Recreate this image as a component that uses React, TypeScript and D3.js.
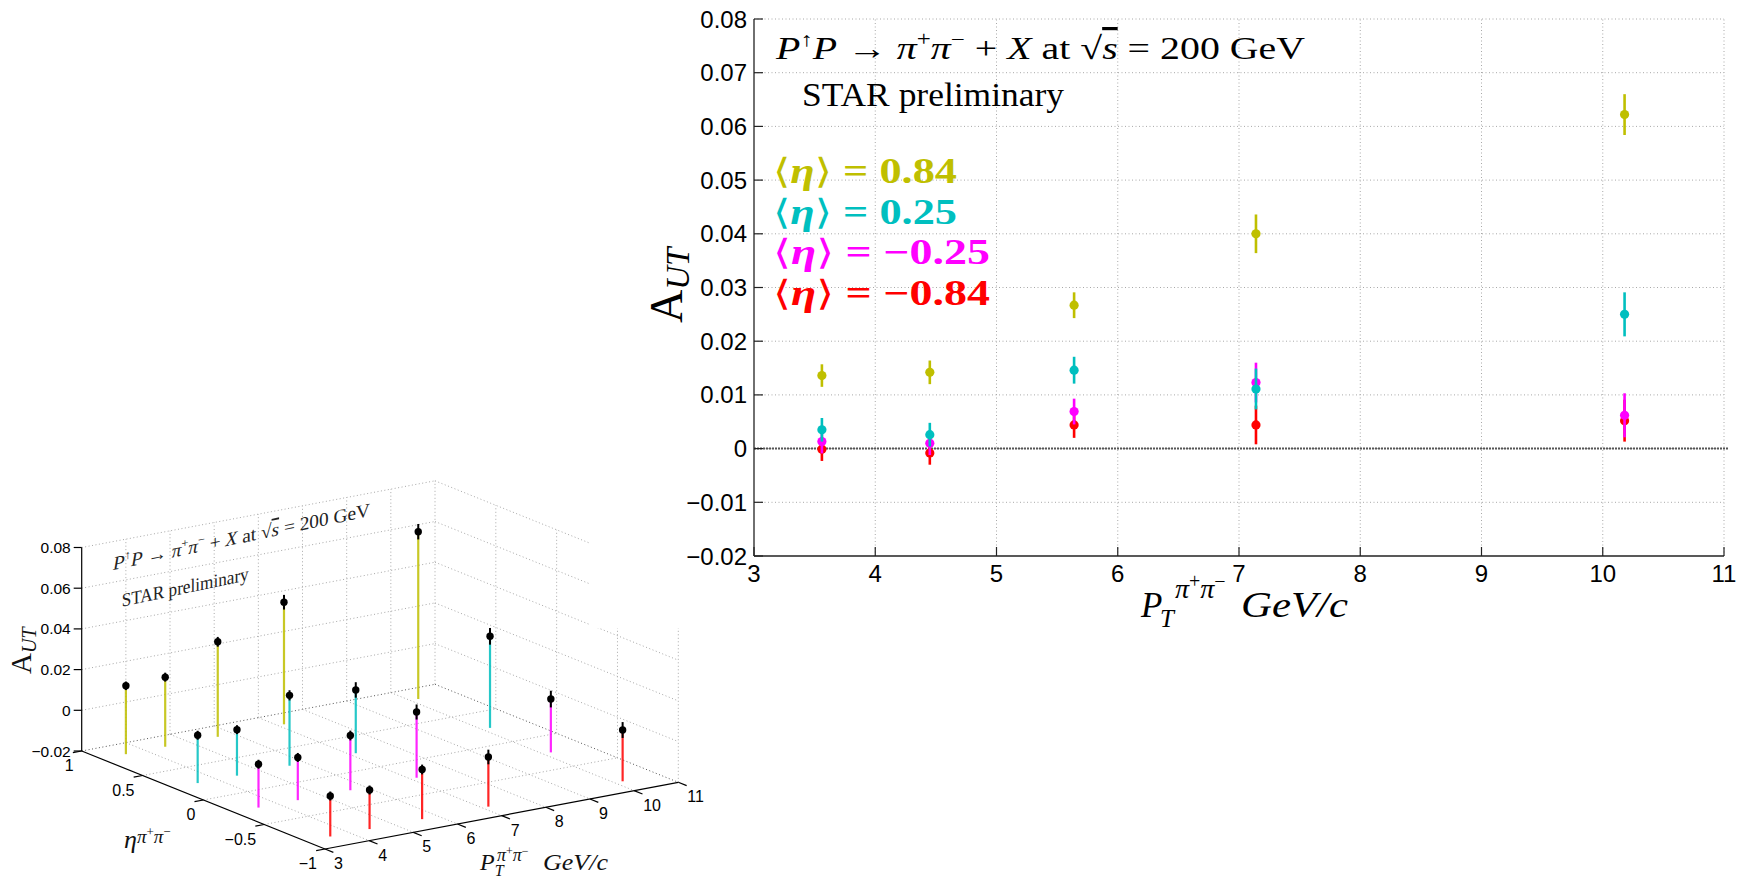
import React from 'react';
import * as d3 from 'd3';

// pT bins (GeV/c) and eta bins
const ptBins = [3.56, 4.45, 5.64, 7.14, 10.18];
const etaBins = [0.84, 0.25, -0.25, -0.84];
const etaText = ['0.84', '0.25', '\u22120.25', '\u22120.84'];

// A_UT per eta bin, with stat. errors
const autEta084 = [0.0136, 0.0142, 0.0267, 0.04, 0.0622];
const errEta084 = [0.0021, 0.0022, 0.0024, 0.0036, 0.0038];
const autEta025 = [0.0035, 0.0026, 0.0146, 0.0111, 0.025];
const errEta025 = [0.0022, 0.0022, 0.0025, 0.0038, 0.0041];
const autEtaM025 = [0.0013, 0.001, 0.0069, 0.0123, 0.0062];
const errEtaM025 = [0.0022, 0.0022, 0.0024, 0.0037, 0.0041];
const autEtaM084 = [-0.0001, -0.0008, 0.0044, 0.0044, 0.0052];
const errEtaM084 = [0.0022, 0.0022, 0.0024, 0.0036, 0.0039];

const seriesVals = [autEta084, autEta025, autEtaM025, autEtaM084];
const seriesErrs = [errEta084, errEta025, errEtaM025, errEtaM084];

// axis ticks
const xTicks = [3, 4, 5, 6, 7, 8, 9, 10, 11];
const yTicks = [-0.02, -0.01, 0, 0.01, 0.02, 0.03, 0.04, 0.05, 0.06, 0.07, 0.08];
const zTicks3d = [-0.02, 0, 0.02, 0.04, 0.06, 0.08];
const etaTicks3d = [1, 0.5, 0, -0.5, -1];
const ptTicks3d = [3, 4, 5, 6, 7, 8, 9, 10, 11];

const colors = ['#bfbf00', '#00bfbf', '#ff00ff', '#ff0000'];
const sans = '"Liberation Sans", Arial, Helvetica, sans-serif';
const serif = '"Liberation Serif", "DejaVu Serif", "Times New Roman", serif';
const grid = '#a8a8a8';

const fmt = (v) => {
    if (Math.abs(v) < 1e-9) return '0';
    const s = Math.abs(v).toFixed(2);
    return (v < 0 ? '\u2212' : '') + s;
};
const fmt1 = (v) => (v < 0 ? '\u2212' : '') + String(Math.abs(v));

export default function App() {
    // ---------- main 2D panel ----------
    const x = d3.scaleLinear().domain([3, 11]).range([754, 1724]);
    const y = d3.scaleLinear().domain([-0.02, 0.08]).range([556, 19]);
    const [x0, x1] = x.range();
    const [yb, yt] = y.range();

    // ---------- 3D panel (orthographic projection) ----------
    const ox = 81.7, oy = 751;
    const ptSx = d3.scaleLinear().domain([3, 11]).range([0, 353.3]);
    const ptSy = d3.scaleLinear().domain([3, 11]).range([0, -66.7]);
    const etaSx = d3.scaleLinear().domain([1, -1]).range([0, 243.3]);
    const etaSy = d3.scaleLinear().domain([1, -1]).range([0, 98]);
    const zS = d3.scaleLinear().domain([-0.02, 0.08]).range([0, -203.5]);
    const P = (p, e, z) => [ox + ptSx(p) + etaSx(e), oy + ptSy(p) + etaSy(e) + zS(z)];
    const seg = (a, b) => ({ x1: a[0], y1: a[1], x2: b[0], y2: b[1] });

    const gridLines3d = [];
    // floor
    etaTicks3d.slice(0, 4).forEach((e) => gridLines3d.push({ l: seg(P(3, e, -0.02), P(11, e, -0.02)), dark: e === 1 }));
    ptTicks3d.slice(1).forEach((p) => gridLines3d.push({ l: seg(P(p, 1, -0.02), P(p, -1, -0.02)), dark: p === 11 }));
    // back wall eta = 1
    zTicks3d.slice(1).forEach((z) => gridLines3d.push({ l: seg(P(3, 1, z), P(11, 1, z)) }));
    ptTicks3d.slice(1).forEach((p) => gridLines3d.push({ l: seg(P(p, 1, -0.02), P(p, 1, 0.08)) }));
    // right wall pT = 11
    zTicks3d.slice(1).forEach((z) => gridLines3d.push({ l: seg(P(11, 1, z), P(11, -1, z)) }));
    etaTicks3d.slice(1).forEach((e) => gridLines3d.push({ l: seg(P(11, e, -0.02), P(11, e, 0.08)) }));

    const stems = [];
    seriesVals.forEach((vals, si) => {
        vals.forEach((v, i) => {
            const p = ptBins[i], e = etaBins[si];
            stems.push({ p, e, v, err: seriesErrs[si][i], c: colors[si], depth: etaSy(e) + ptSy(p) });
        });
    });
    stems.sort((a, b) => a.depth - b.depth);

    const tk = 9;
    const ptDir = [44.16, -8.34], etaDir = [121.65, 49];
    const nrm = (v) => { const l = Math.hypot(v[0], v[1]); return [v[0] / l, v[1] / l]; };
    const ptN = nrm(ptDir), etaN = nrm(etaDir);

    return (
        <svg width={1746} height={882} style={{ position: 'absolute', left: 0, top: 0, background: '#fff' }}>
            <rect x={0} y={0} width={1746} height={882} fill="#fff" />

            {/* ===== 3D stem plot ===== */}
            <g>
                {gridLines3d.map((g, i) => (
                    <line key={'g3' + i} {...g.l} stroke={g.dark ? '#555' : grid}
                        strokeWidth={1} strokeDasharray="1,2.5" />
                ))}
                {/* axes */}
                <line {...seg(P(3, 1, -0.02), P(3, 1, 0.08))} stroke="#000" strokeWidth={1.2} />
                <line {...seg(P(3, 1, -0.02), P(3, -1, -0.02))} stroke="#000" strokeWidth={1.2} />
                <line {...seg(P(3, -1, -0.02), P(11, -1, -0.02))} stroke="#000" strokeWidth={1.2} />
                {zTicks3d.map((z) => {
                    const [px, py] = P(3, 1, z);
                    return (
                        <g key={'zt' + z}>
                            <line x1={px} y1={py} x2={px - 8} y2={py} stroke="#000" strokeWidth={1.2} />
                            <text x={px - 11} y={py} textAnchor="end" dominantBaseline="central"
                                fontFamily={sans} fontSize={15.5}>{fmt(z)}</text>
                        </g>
                    );
                })}
                {etaTicks3d.map((e) => {
                    const [px, py] = P(3, e, -0.02);
                    return (
                        <g key={'et' + e}>
                            <line x1={px} y1={py} x2={px - ptN[0] * tk} y2={py - ptN[1] * tk} stroke="#000" strokeWidth={1.2} />
                            <text x={px - 8} y={py + 20} textAnchor="end" fontFamily={sans} fontSize={16}>{fmt1(e)}</text>
                        </g>
                    );
                })}
                {ptTicks3d.map((p) => {
                    const [px, py] = P(p, -1, -0.02);
                    return (
                        <g key={'pt' + p}>
                            <line x1={px} y1={py} x2={px + etaN[0] * tk} y2={py + etaN[1] * tk} stroke="#000" strokeWidth={1.2} />
                            <text x={px + 9} y={py + 20} textAnchor="start" fontFamily={sans} fontSize={16}>{p}</text>
                        </g>
                    );
                })}

                {/* stems */}
                {stems.map((s, i) => {
                    const b = P(s.p, s.e, -0.02), t = P(s.p, s.e, s.v);
                    const lo = P(s.p, s.e, s.v - s.err), hi = P(s.p, s.e, s.v + s.err);
                    return (
                        <g key={'st' + i}>
                            <line {...seg(b, t)} stroke={s.c} strokeWidth={2.2} opacity={0.85} />
                            <line {...seg(lo, hi)} stroke="#000" strokeWidth={2} />
                            <circle cx={t[0]} cy={t[1]} r={3.7} fill="#000" />
                        </g>
                    );
                })}

                {/* texts on the back wall */}
                <text transform="matrix(1,-0.21,0,1,113,570)" fontFamily={serif} fontSize={19} fill="#222"
                    textLength={257} lengthAdjust="spacingAndGlyphs">
                    <tspan fontStyle="italic">P</tspan>
                    <tspan fontSize={12} dy={-8}>↑</tspan>
                    <tspan fontStyle="italic" dy={8}>P</tspan>
                    <tspan> → </tspan>
                    <tspan fontStyle="italic">π</tspan>
                    <tspan fontSize={12} dy={-8}>+</tspan>
                    <tspan fontStyle="italic" dy={8}>π</tspan>
                    <tspan fontSize={12} dy={-8}>−</tspan>
                    <tspan dy={8}> + </tspan>
                    <tspan fontStyle="italic">X</tspan>
                    <tspan> at √</tspan>
                    <tspan fontStyle="italic" textDecoration="overline">s</tspan>
                    <tspan> = 200 GeV</tspan>
                </text>
                <text transform="matrix(1,-0.21,0,1,121.7,606.7)" fontFamily={serif} fontSize={19} fill="#222"
                    textLength={127} lengthAdjust="spacingAndGlyphs">STAR preliminary</text>

                {/* axis labels */}
                <text transform="translate(31,674) rotate(-90)" fontFamily={serif} fontSize={29} fill="#111">
                    A<tspan fontStyle="italic" fontSize={20} dy={5}>UT</tspan>
                </text>
                <text x={124} y={848} fontFamily={serif} fontSize={26} fill="#111">
                    <tspan fontStyle="italic">η</tspan>
                    <tspan fontStyle="italic" fontSize={19} dy={-5}>π</tspan>
                    <tspan fontSize={13} dy={-7}>+</tspan>
                    <tspan fontStyle="italic" fontSize={19} dy={7}>π</tspan>
                    <tspan fontSize={13} dy={-7}>−</tspan>
                </text>
                <text x={480} y={870} fontFamily={serif} fontSize={24} fill="#111">
                    <tspan fontStyle="italic">P</tspan>
                    <tspan fontStyle="italic" fontSize={16} dy={6}>T</tspan>
                </text>
                <text x={497} y={861} fontFamily={serif} fontSize={18} fill="#111">
                    <tspan fontStyle="italic">π</tspan>
                    <tspan fontSize={12} dy={-6}>+</tspan>
                    <tspan fontStyle="italic" dy={6}>π</tspan>
                    <tspan fontSize={12} dy={-6}>−</tspan>
                </text>
                <text x={543} y={870} fontFamily={serif} fontStyle="italic" fontSize={24} fill="#111"
                    textLength={65} lengthAdjust="spacingAndGlyphs">GeV/c</text>
            </g>

            {/* main figure background covers the 3D panel corner */}
            <rect x={590} y={0} width={1156} height={628} fill="#fff" />

            {/* ===== main 2D chart ===== */}
            <g>
                {xTicks.slice(1).map((t) => (
                    <line key={'gx' + t} x1={x(t)} x2={x(t)} y1={yb} y2={yt} stroke={grid} strokeWidth={1} strokeDasharray="1,2.5" />
                ))}
                {yTicks.slice(1).map((t) => (
                    <line key={'gy' + t} x1={x0} x2={x1} y1={y(t)} y2={y(t)} stroke={grid} strokeWidth={1} strokeDasharray="1,2.5" />
                ))}
                <line x1={x0} x2={x1 + 4} y1={y(0)} y2={y(0)} stroke="#555" strokeWidth={2} strokeDasharray="2,1" />

                <line x1={x0} x2={x0} y1={yb} y2={yt} stroke="#222" strokeWidth={1.3} />
                <line x1={x0} x2={x1} y1={yb} y2={yb} stroke="#222" strokeWidth={1.3} />
                {yTicks.map((t) => (
                    <g key={'yt' + t}>
                        <line x1={x0} x2={x0 + 9} y1={y(t)} y2={y(t)} stroke="#222" strokeWidth={1.2} />
                        <text x={x0 - 7} y={y(t)} textAnchor="end" dominantBaseline="central" fontFamily={sans} fontSize={24}>{fmt(t)}</text>
                    </g>
                ))}
                {xTicks.map((t) => (
                    <g key={'xt' + t}>
                        <line x1={x(t)} x2={x(t)} y1={yb} y2={yb - 9} stroke="#222" strokeWidth={1.2} />
                        <text x={x(t)} y={582} textAnchor="middle" fontFamily={sans} fontSize={24}>{t}</text>
                    </g>
                ))}

                {/* data, drawn red -> yellow */}
                {[3, 2, 1, 0].map((si) => (
                    <g key={'s' + si}>
                        {seriesVals[si].map((v, i) => (
                            <g key={i}>
                                <line x1={x(ptBins[i])} x2={x(ptBins[i])} y1={y(v - seriesErrs[si][i])} y2={y(v + seriesErrs[si][i])}
                                    stroke={colors[si]} strokeWidth={2.6} />
                                <circle cx={x(ptBins[i])} cy={y(v)} r={4.6} fill={colors[si]} />
                            </g>
                        ))}
                    </g>
                ))}

                {/* annotations */}
                <text x={776} y={59} fontFamily={serif} fontSize={32} fill="#000" textLength={529} lengthAdjust="spacingAndGlyphs">
                    <tspan fontStyle="italic">P</tspan>
                    <tspan fontSize={20} dy={-13}>↑</tspan>
                    <tspan fontStyle="italic" dy={13}>P</tspan>
                    <tspan> → </tspan>
                    <tspan fontStyle="italic">π</tspan>
                    <tspan fontSize={20} dy={-13}>+</tspan>
                    <tspan fontStyle="italic" dy={13}>π</tspan>
                    <tspan fontSize={20} dy={-13}>−</tspan>
                    <tspan dy={13}> + </tspan>
                    <tspan fontStyle="italic">X</tspan>
                    <tspan> at √</tspan>
                    <tspan fontStyle="italic" textDecoration="overline">s</tspan>
                    <tspan> = 200 GeV</tspan>
                </text>
                <text x={802} y={106} fontFamily={serif} fontSize={33} fill="#000" textLength={262} lengthAdjust="spacingAndGlyphs">STAR preliminary</text>

                {etaText.map((lab, si) => (
                    <text key={'lg' + si} x={773} y={183 + si * 40.5} fontFamily={serif} fontWeight="bold" fontSize={35}
                        fill={colors[si]} textLength={si < 2 ? 184 : 217} lengthAdjust="spacingAndGlyphs">
                        <tspan fontWeight="normal">⟨</tspan>
                        <tspan fontStyle="italic">η</tspan>
                        <tspan fontWeight="normal">⟩</tspan>
                        <tspan> = {lab}</tspan>
                    </text>
                ))}

                <text transform="translate(682,323) rotate(-90)" fontFamily={serif} fontSize={46} fill="#000">
                    A<tspan fontStyle="italic" fontSize={33} dy={7}>UT</tspan>
                </text>

                <text x={1141} y={617} fontFamily={serif} fontSize={35} fontStyle="italic" fill="#000">P</text>
                <text x={1160} y={627} fontFamily={serif} fontSize={25} fontStyle="italic" fill="#000">T</text>
                <text x={1175} y={598} fontFamily={serif} fontSize={28} fill="#000">
                    <tspan fontStyle="italic">π</tspan>
                    <tspan fontSize={20} dy={-10}>+</tspan>
                    <tspan fontStyle="italic" dy={10}>π</tspan>
                    <tspan fontSize={20} dy={-10}>−</tspan>
                </text>
                <text x={1241} y={617} fontFamily={serif} fontSize={36} fontStyle="italic" fill="#000"
                    textLength={107} lengthAdjust="spacingAndGlyphs">GeV/c</text>
            </g>
        </svg>
    );
}
